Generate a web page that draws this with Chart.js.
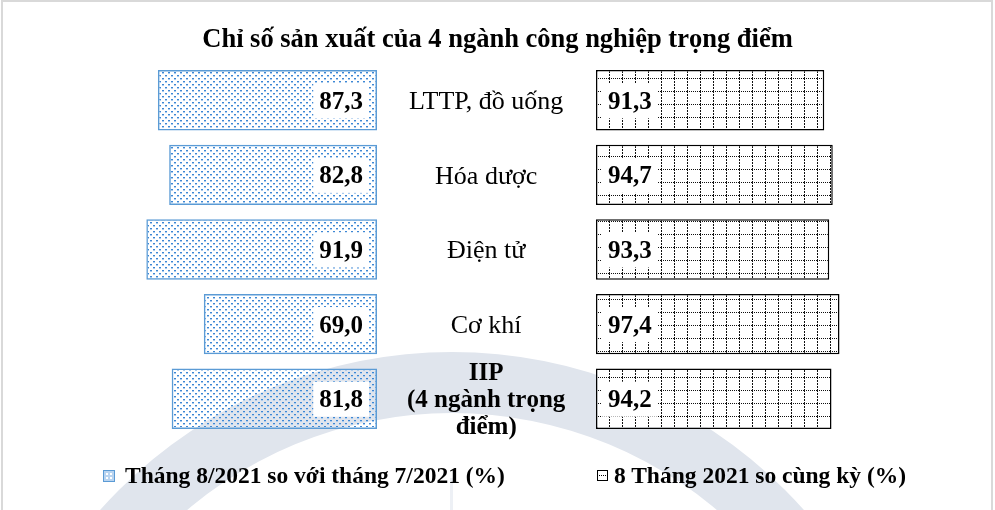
<!DOCTYPE html>
<html>
<head>
<meta charset="utf-8">
<script src="https://cdn.jsdelivr.net/npm/chart.js"></script>
<style>
body { margin: 0; background: #fff; }
#wrap { position: relative; width: 995px; height: 510px; overflow: hidden; font-family: 'Liberation Serif', 'Times New Roman', serif; color: #000; }
#wm { position: absolute; left: 0; top: 0; }
#frame { position: absolute; left: 1px; top: 0px; width: 988px; height: 520px; border: 2px solid #d9d9d9; }
#title { position: absolute; left: 0; top: 21px; width: 995px; text-align: center; font-weight: bold; font-size: 26.5px; line-height: 34px; }
#left { position: absolute; left: 0; top: 0; width: 596px; height: 510px; }
#right { position: absolute; left: 596px; top: 0; width: 399px; height: 510px; }
.leg { position: absolute; top: 461px; font-weight: bold; font-size: 23.5px; line-height: 28px; white-space: nowrap; }
.leg canvas { position: absolute; left: 0; top: 9px; }
.leg span { position: absolute; top: 0; }
</style>
</head>
<body>
<div id="wrap">
  <canvas id="wm" width="995" height="510"></canvas>
  <div id="frame"></div>
  <div id="title">Chỉ số sản xuất của 4 ngành công nghiệp trọng điểm</div>
  <div id="left"><canvas id="leftChart"></canvas></div>
  <div id="right"><canvas id="rightChart"></canvas></div>
  <div class="leg" style="left:103px;"><canvas id="icon1" width="12" height="12"></canvas><span id="leg1" style="left:22px;"></span></div>
  <div class="leg" style="left:597px;"><canvas id="icon2" width="11" height="11"></canvas><span id="leg2" style="left:17px;"></span></div>
</div>

<script>
const categories = ['LTTP, đồ uống', 'Hóa dược', 'Điện tử', 'Cơ khí', ['IIP', '(4 ngành trọng', 'điểm)']];
const monthValues = [87.3, 82.8, 91.9, 69.0, 81.8];
const ytdValues = [91.3, 94.7, 93.3, 97.4, 94.2];
const seriesNames = ['Tháng 8/2021 so với tháng 7/2021 (%)', '8 Tháng 2021 so cùng kỳ (%)'];

const serif = "'Liberation Serif', 'Times New Roman', serif";

// watermark ring in the background
(function () {
  const c = document.getElementById('wm').getContext('2d');
  c.fillStyle = '#e0e5ed';
  c.beginPath();
  c.arc(452, 823, 471, 0, Math.PI * 2);
  c.arc(452, 823, 410, 0, Math.PI * 2, true);
  c.fill();
  c.fillStyle = '#edf0f5';
  c.fillRect(450, 478, 3, 32);
})();

function dotPattern() {
  const t = document.createElement('canvas');
  t.width = 6; t.height = 6;
  const c = t.getContext('2d');
  c.fillStyle = '#3d87d4';
  c.fillRect(0, 0, 2, 1);
  c.fillRect(3, 3, 2, 1);
  c.fillStyle = '#a9cbee';
  c.fillRect(0, 1, 2, 1);
  c.fillRect(3, 4, 2, 1);
  return c.createPattern(t, 'repeat');
}

function gridPattern() {
  const t = document.createElement('canvas');
  t.width = 13; t.height = 13;
  const c = t.getContext('2d');
  c.fillStyle = '#fff';
  c.fillRect(0, 0, 13, 13);
  c.fillStyle = '#111';
  for (let i = 0; i < 13; i += 2) c.fillRect(i, 0, 1, 1);
  for (let j = 0; j < 13; j += 3) c.fillRect(0, j, 1, 2);
  return c.createPattern(t, 'repeat');
}

const fmt = v => v.toFixed(1).replace('.', ',');

const valueLabels = {
  id: 'valueLabels',
  afterDatasetsDraw(chart, args, opts) {
    const ctx = chart.ctx;
    const meta = chart.getDatasetMeta(0);
    ctx.save();
    ctx.font = 'bold 25px ' + serif;
    ctx.textBaseline = 'middle';
    ctx.textAlign = 'left';
    meta.data.forEach((bar, i) => {
      const txt = fmt(chart.data.datasets[0].data[i]);
      const w = ctx.measureText(txt).width;
      const tx = opts.side === 'left' ? bar.base - 14 - w : bar.base + 12;
      ctx.fillStyle = '#fff';
      ctx.fillRect(tx - 6, bar.y - 17, w + 12, 35);
      ctx.fillStyle = '#000';
      ctx.fillText(txt, tx, bar.y + 2);
    });
    ctx.restore();
  }
};

const leftChart = new Chart(document.getElementById('leftChart'), {
  type: 'bar',
  data: {
    labels: categories,
    datasets: [{
      label: seriesNames[0],
      data: monthValues,
      backgroundColor: dotPattern(),
      borderColor: '#5b9bd5',
      borderWidth: 1.5,
      borderSkipped: false,
      categoryPercentage: 1,
      barPercentage: 0.81
    }]
  },
  options: {
    indexAxis: 'y',
    responsive: true,
    maintainAspectRatio: false,
    animation: false,
    layout: { padding: { left: 126, top: 63, bottom: 74, right: 0 } },
    scales: {
      x: { display: false, min: 0, max: 100, reverse: true },
      y: {
        position: 'right',
        grid: { display: false, drawTicks: true, tickLength: 30 },
        border: { display: false },
        afterFit: s => { s.width = 219; },
        ticks: {
          autoSkip: false,
          color: '#000',
          crossAlign: 'center',
          padding: 0,
          labelOffset: 2,
          font: ctx => ctx.index === 4
            ? { family: serif, size: 25, weight: 'bold', lineHeight: 1.08 }
            : { family: serif, size: 26, weight: 'normal', lineHeight: 1.1 }
        }
      }
    },
    plugins: {
      legend: { display: false },
      tooltip: { enabled: false },
      valueLabels: { side: 'left' }
    }
  },
  plugins: [valueLabels]
});

const rightChart = new Chart(document.getElementById('rightChart'), {
  type: 'bar',
  data: {
    labels: categories,
    datasets: [{
      label: seriesNames[1],
      data: ytdValues,
      backgroundColor: gridPattern(),
      borderColor: '#000',
      borderWidth: 1.5,
      borderSkipped: false,
      categoryPercentage: 1,
      barPercentage: 0.81
    }]
  },
  options: {
    indexAxis: 'y',
    responsive: true,
    maintainAspectRatio: false,
    animation: false,
    layout: { padding: { left: 0, top: 63, bottom: 74, right: 149 } },
    scales: {
      x: { display: false, min: 0, max: 100 },
      y: { display: false }
    },
    plugins: {
      legend: { display: false },
      tooltip: { enabled: false },
      valueLabels: { side: 'right' }
    }
  },
  plugins: [valueLabels]
});

// legend
document.getElementById('leg1').textContent = seriesNames[0];
document.getElementById('leg2').textContent = seriesNames[1];
(function () {
  let c = document.getElementById('icon1').getContext('2d');
  c.fillStyle = '#b9d4f0';
  c.fillRect(1, 1, 10, 10);
  c.fillStyle = '#fff';
  c.fillRect(3, 3, 2, 2);
  c.fillRect(7, 7, 2, 2);
  c.fillRect(7, 3, 2, 2);
  c.fillRect(3, 7, 2, 2);
  c.strokeStyle = '#5b9bd5';
  c.strokeRect(0.5, 0.5, 11, 11);
  c = document.getElementById('icon2').getContext('2d');
  c.fillStyle = '#fff';
  c.fillRect(1, 1, 9, 9);
  c.fillStyle = '#000';
  for (let i = 2; i < 10; i += 2) c.fillRect(i, 5, 1, 1);
  c.strokeStyle = '#000';
  c.strokeRect(0.5, 0.5, 10, 10);
})();
</script>
</body>
</html>
